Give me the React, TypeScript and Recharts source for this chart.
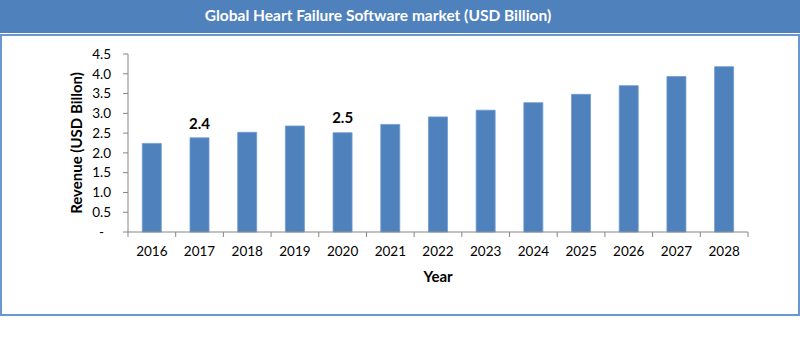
import React from 'react';
import { BarChart, Bar, XAxis, YAxis, ReferenceDot } from 'recharts';

const YEARS = ['2016', '2017', '2018', '2019', '2020', '2021', '2022', '2023', '2024', '2025', '2026', '2027', '2028'];
const REVENUE = [2.24, 2.38, 2.52, 2.68, 2.51, 2.72, 2.91, 3.08, 3.27, 3.48, 3.7, 3.93, 4.18];
const Y_TICKS = [0, 0.5, 1.0, 1.5, 2.0, 2.5, 3.0, 3.5, 4.0, 4.5];
const CALLOUT_YEARS = ['2017', '2020'];
const CALLOUT_TEXT = ['2.4', '2.5'];
const CALLOUT_AT = [2.73, 2.88];

const TITLE = 'Global Heart Failure Software market (USD Billion)';
const Y_TITLE = 'Revenue (USD Billon)';
const X_TITLE = 'Year';

const data = YEARS.map((y, i) => ({ year: y, value: REVENUE[i] }));

const FONT = 'Lato, "Open Sans", sans-serif';
const W = 800;
const H = 355;
const MARGIN = { top: 54, right: 52, left: 60, bottom: 63 };
const Y_AXIS_W = 68;
const X_AXIS_H = 60;
const PLOT_W = W - MARGIN.left - MARGIN.right - Y_AXIS_W;
const PLOT_BOTTOM = H - MARGIN.bottom - X_AXIS_H;
const BAND = PLOT_W / YEARS.length;
const AXIS_GRAY = '#868686';

const XTick = (props: any) => {
  const { x, payload, index } = props;
  const half = BAND / 2;
  return (
    <g>
      <line x1={x - half} x2={x - half} y1={PLOT_BOTTOM} y2={PLOT_BOTTOM + 5} stroke={AXIS_GRAY} />
      {index === YEARS.length - 1 && (
        <line x1={x + half} x2={x + half} y1={PLOT_BOTTOM} y2={PLOT_BOTTOM + 5} stroke={AXIS_GRAY} />
      )}
      <text x={x} y={PLOT_BOTTOM + 14.5} dy="0.71em" textAnchor="middle" fill="#000" fontSize={13.5} fontFamily={FONT}>
        {payload.value}
      </text>
    </g>
  );
};

export default function App() {
  return (
    <div style={{ position: 'absolute', left: 0, top: 0, width: W, height: H, background: '#fff', fontFamily: FONT }}>
      <div
        style={{
          position: 'absolute',
          left: 0,
          top: 0,
          width: W,
          height: 33,
          background: '#4f81bd',
          color: '#fff',
          fontWeight: 700,
          fontSize: 15.5,
          lineHeight: '30px',
        }}
      >
        <span style={{ position: 'absolute', left: 378, top: 0, transform: 'translateX(-50%)', whiteSpace: 'nowrap' }}>{TITLE}</span>
      </div>
      <div
        style={{
          position: 'absolute',
          left: 0,
          top: 34,
          width: W,
          height: 281.5,
          border: '2px solid #6a97cf',
          boxSizing: 'border-box',
        }}
      />
      <div style={{ position: 'absolute', left: 0, top: 0 }}>
        <BarChart width={W} height={H} data={data} margin={MARGIN} barCategoryGap="30%">
          <XAxis
            dataKey="year"
            height={X_AXIS_H}
            axisLine={{ stroke: AXIS_GRAY }}
            tickLine={false}
            interval={0}
            tick={(p: any) => <XTick {...p} />}
            label={{
              content: (p: any) => {
                const vb = p.viewBox;
                return (
                  <text x={vb.x + vb.width / 2} y={vb.y + 44} textAnchor="middle" dominantBaseline="central" fontWeight={700} fontSize={15} fontFamily={FONT} fill="#000">
                    {X_TITLE}
                  </text>
                );
              },
            }}
          />
          <YAxis
            type="number"
            domain={[0, 4.5]}
            ticks={Y_TICKS}
            interval={0}
            width={Y_AXIS_W}
            axisLine={{ stroke: AXIS_GRAY }}
            tickLine={{ stroke: AXIS_GRAY }}
            tickSize={5}
            tickMargin={12}
            tick={{ fill: '#000', fontSize: 13.5, fontFamily: FONT }}
            tickFormatter={(v: number) => (v === 0 ? '-\u00a0\u00a0' : v.toFixed(1))}
            label={{
              content: (p: any) => {
                const vb = p.viewBox;
                const cx = vb.x + 16;
                const cy = vb.y + vb.height / 2;
                return (
                  <text x={cx} y={cy} transform={`rotate(-90 ${cx} ${cy})`} textAnchor="middle" dominantBaseline="central" fontWeight={700} fontSize={15} fontFamily={FONT} fill="#000">
                    {Y_TITLE}
                  </text>
                );
              },
            }}
          />
          <Bar dataKey="value" fill="#4f81bd" stroke="#6f9ad0" strokeWidth={0.8} isAnimationActive={false} />
          {CALLOUT_YEARS.map((yr, i) => (
            <ReferenceDot
              key={yr}
              x={yr}
              y={CALLOUT_AT[i]}
              r={0}
              fill="none"
              stroke="none"
              label={{ value: CALLOUT_TEXT[i], position: 'center', fontWeight: 700, fontSize: 15, fontFamily: FONT, fill: '#000' }}
            />
          ))}
        </BarChart>
      </div>
    </div>
  );
}
